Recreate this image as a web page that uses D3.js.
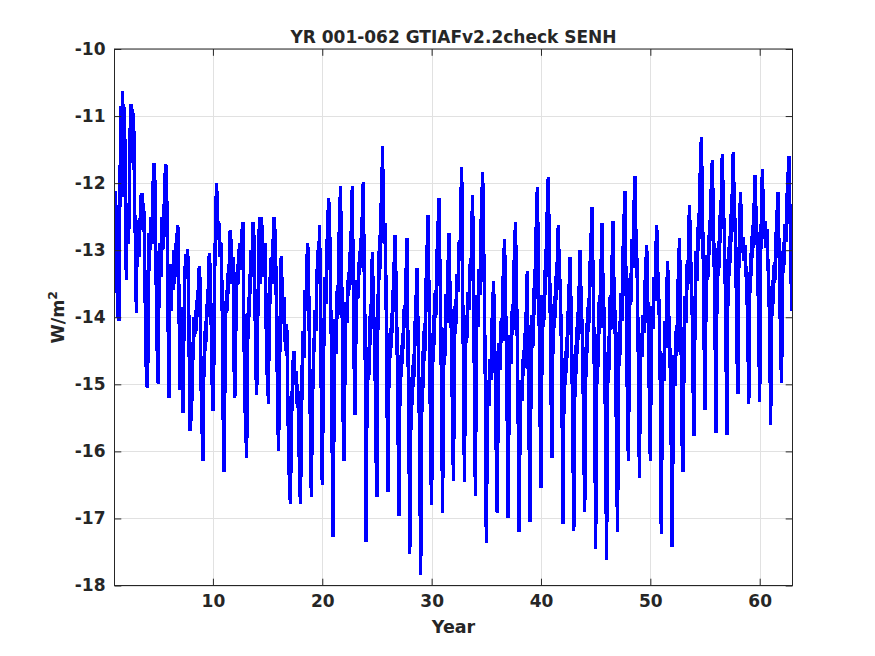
<!DOCTYPE html>
<html><head><meta charset="utf-8">
<script src="https://cdn.jsdelivr.net/npm/d3@7"></script>
<style>
body{margin:0;background:#fff}
svg text{font-family:"DejaVu Sans",sans-serif;font-weight:bold;fill:#262626}
</style>
</head><body>
<svg id="chart" width="875" height="656"></svg>
<script>
const titleText = "YR 001-062 GTIAFv2.2check SENH";
const xLabelText = "Year";
const yLabelMain = "W/m";
const yLabelSup = "2";
const firstYear = 1;
const monthsPerYear = 12;
const xDomain = [1, 63];
const yDomain = [-18, -10];
const xTicks = [10, 20, 30, 40, 50, 60];
const yTicks = [-18, -17, -16, -15, -14, -13, -12, -11, -10];

// monthly values (W/m^2), one row per model year
const senh = [
[-13.22,-12.12,-12.60,-13.67,-14.00,-14.05,-12.05,-10.85,-11.30,-10.63,-12.20,-10.87],
[-12.40,-13.45,-12.30,-12.90,-12.60,-11.30,-10.82,-10.90,-11.70,-10.95,-12.30,-12.90],
[-13.94,-12.55,-12.80,-13.10,-12.60,-12.20,-12.15,-12.60,-12.30,-13.00,-14.12,-14.90],
[-15.05,-14.40,-12.75,-13.00,-12.50,-12.90,-12.20,-11.70,-11.75,-12.60,-13.80,-14.60],
[-15.00,-13.20,-12.90,-13.40,-12.50,-13.00,-12.60,-12.10,-11.72,-11.75,-13.00,-14.30],
[-15.20,-13.20,-13.90,-13.40,-13.60,-13.00,-13.50,-12.90,-13.30,-12.63,-12.70,-14.10],
[-15.08,-13.85,-14.50,-15.43,-14.40,-13.50,-13.06,-13.40,-12.98,-13.20,-14.60,-15.70],
[-15.50,-15.20,-14.60,-14.00,-14.30,-13.90,-14.20,-13.60,-14.00,-13.24,-13.50,-15.00],
[-15.60,-16.15,-14.90,-14.20,-14.50,-13.80,-14.00,-13.50,-13.05,-13.30,-14.00,-14.90],
[-15.40,-14.70,-13.30,-12.50,-12.00,-12.40,-12.85,-12.60,-13.10,-12.90,-13.60,-15.20],
[-16.30,-15.20,-14.00,-13.60,-13.90,-13.20,-13.50,-12.70,-12.90,-13.30,-13.10,-14.60],
[-15.20,-14.30,-13.60,-13.20,-13.50,-12.90,-13.30,-13.00,-12.70,-12.58,-14.10,-15.30],
[-15.60,-16.10,-14.60,-13.70,-14.00,-13.30,-13.00,-13.40,-12.58,-12.80,-13.60,-14.70],
[-15.16,-14.20,-13.40,-12.50,-13.50,-12.50,-12.70,-13.00,-13.40,-12.90,-13.60,-14.80],
[-14.90,-15.30,-13.40,-13.80,-13.10,-13.50,-12.90,-12.50,-12.70,-13.20,-14.20,-15.30],
[-16.00,-15.00,-13.80,-13.08,-13.60,-14.10,-13.70,-14.30,-14.50,-14.10,-15.00,-16.00],
[-16.50,-16.78,-15.80,-15.10,-14.65,-14.50,-15.00,-14.80,-15.30,-15.00,-15.60,-16.30],
[-16.78,-15.90,-14.70,-14.20,-14.60,-13.60,-13.90,-13.20,-12.89,-13.40,-14.60,-15.70],
[-16.68,-15.50,-14.80,-14.40,-13.90,-14.20,-13.50,-13.00,-13.30,-12.63,-13.80,-15.30],
[-16.50,-15.20,-14.10,-13.40,-13.80,-13.00,-12.60,-12.23,-12.50,-13.60,-14.40,-16.20],
[-17.27,-15.18,-14.03,-14.55,-13.61,-14.03,-12.98,-12.56,-12.04,-13.09,-14.13,-15.60],
[-16.15,-14.59,-13.77,-14.09,-13.44,-13.68,-13.03,-13.27,-12.53,-12.04,-13.60,-14.75],
[-15.45,-14.14,-13.44,-13.72,-13.17,-13.37,-12.82,-13.03,-12.41,-11.99,-13.30,-14.27],
[-17.35,-15.41,-14.50,-14.93,-13.98,-14.41,-13.55,-13.03,-13.81,-14.15,-14.84,-16.05],
[-16.68,-14.06,-13.02,-13.44,-12.29,-12.81,-11.45,-12.23,-12.91,-12.60,-13.65,-15.11],
[-16.60,-15.07,-14.23,-14.61,-13.93,-14.23,-13.47,-13.16,-12.78,-13.54,-14.31,-15.38],
[-16.97,-15.39,-14.56,-14.89,-14.23,-14.48,-13.82,-14.06,-13.32,-12.82,-14.40,-15.56],
[-17.53,-15.83,-14.89,-15.31,-14.55,-14.89,-14.04,-13.70,-13.27,-14.12,-14.97,-16.17],
[-17.85,-15.70,-14.51,-15.05,-14.08,-14.51,-13.44,-13.01,-12.47,-13.55,-14.62,-16.13],
[-16.80,-14.97,-13.96,-14.42,-13.59,-13.96,-13.04,-12.68,-12.22,-13.14,-14.05,-15.33],
[-16.92,-15.04,-14.16,-14.58,-13.66,-14.08,-13.24,-12.74,-13.49,-13.83,-14.50,-15.67],
[-16.44,-14.66,-13.73,-14.10,-13.35,-13.63,-12.88,-13.16,-12.32,-11.76,-13.54,-14.85],
[-16.45,-14.83,-13.97,-14.31,-13.63,-13.89,-13.20,-13.46,-12.69,-12.18,-13.80,-15.00],
[-16.67,-14.73,-13.67,-14.15,-13.28,-13.67,-12.70,-12.31,-11.83,-12.80,-13.77,-15.12],
[-17.36,-15.80,-14.94,-15.33,-14.63,-14.94,-14.16,-13.85,-13.46,-14.24,-15.02,-16.11],
[-16.92,-15.28,-14.38,-14.79,-14.06,-14.38,-13.57,-13.24,-12.83,-13.65,-14.47,-15.61],
[-17.00,-15.23,-14.26,-14.70,-13.91,-14.26,-13.38,-13.02,-12.58,-13.46,-14.35,-15.59],
[-17.20,-15.72,-14.94,-15.25,-14.63,-14.87,-14.24,-14.48,-13.78,-13.31,-14.79,-15.88],
[-17.05,-15.05,-13.96,-14.46,-13.56,-13.96,-12.96,-12.56,-12.06,-13.06,-14.06,-15.45],
[-16.55,-14.69,-13.67,-14.14,-13.30,-13.67,-12.75,-12.37,-11.91,-12.84,-13.77,-15.07],
[-16.10,-14.54,-13.81,-14.16,-13.39,-13.74,-13.05,-12.63,-13.25,-13.53,-14.09,-15.06],
[-17.08,-15.49,-14.61,-15.01,-14.29,-14.61,-13.82,-13.50,-13.10,-13.90,-14.69,-15.81],
[-17.18,-15.30,-14.42,-14.84,-13.92,-14.34,-13.50,-13.00,-13.75,-14.09,-14.76,-15.93],
[-16.90,-15.08,-14.08,-14.53,-13.71,-14.08,-13.17,-12.80,-12.35,-13.26,-14.17,-15.44],
[-17.46,-15.27,-14.25,-14.74,-13.67,-14.16,-13.18,-12.60,-13.47,-13.86,-14.64,-16.00],
[-17.62,-15.34,-14.28,-14.79,-13.67,-14.18,-13.17,-12.56,-13.47,-13.88,-14.69,-16.10],
[-17.20,-15.17,-14.05,-14.56,-13.64,-14.05,-13.03,-12.63,-12.12,-13.14,-14.15,-15.57],
[-16.15,-14.24,-13.34,-13.77,-12.83,-13.26,-12.41,-11.90,-12.66,-13.00,-13.68,-14.87],
[-16.39,-15.00,-14.24,-14.59,-13.96,-14.24,-13.54,-13.27,-12.92,-13.61,-14.31,-15.28],
[-16.15,-14.57,-13.83,-14.18,-13.40,-13.76,-13.05,-12.63,-13.26,-13.55,-14.11,-15.09],
[-17.23,-15.40,-14.54,-14.95,-14.06,-14.46,-13.65,-13.16,-13.89,-14.22,-14.87,-16.01],
[-17.43,-15.59,-14.57,-15.03,-14.20,-14.57,-13.65,-13.28,-12.82,-13.74,-14.66,-15.95],
[-16.31,-14.51,-13.68,-14.08,-13.20,-13.60,-12.80,-12.32,-13.04,-13.36,-14.00,-15.11],
[-15.77,-13.99,-13.01,-13.46,-12.65,-13.01,-12.12,-11.76,-11.32,-12.21,-13.10,-14.35],
[-15.38,-13.89,-13.07,-13.45,-12.78,-13.07,-12.33,-12.03,-11.66,-12.40,-13.15,-14.19],
[-15.72,-13.85,-12.97,-13.39,-12.48,-12.89,-12.06,-11.56,-12.31,-12.64,-13.31,-14.47],
[-15.75,-13.85,-12.96,-13.39,-12.46,-12.88,-12.04,-11.53,-12.29,-12.63,-13.30,-14.48],
[-15.14,-13.34,-12.59,-12.14,-12.74,-13.04,-12.80,-13.16,-12.92,-13.34,-13.64,-14.24],
[-15.30,-13.76,-13.04,-13.38,-12.63,-12.97,-12.29,-11.88,-12.50,-12.77,-13.32,-14.27],
[-15.27,-13.18,-12.31,-11.79,-12.49,-12.83,-12.56,-12.97,-12.69,-13.18,-13.53,-14.23],
[-15.60,-14.22,-13.45,-13.80,-13.18,-13.45,-12.76,-12.49,-12.14,-12.83,-13.52,-14.49],
[-14.98,-13.62,-12.88,-13.22,-12.61,-12.88,-12.20,-11.93,-11.59,-12.27,-12.95,-13.90]
];

const points = [];
senh.forEach((row, yi) => row.forEach((v, m) => points.push({t: firstYear + yi + m / monthsPerYear, v})));

const L = 114.5, R = 792.5, T = 49, B = 585.5;
const axisColor = "#262626", gridColor = "#e1e1e1", lineColor = "#0000ff";
const fs = 17;

const svg = d3.select("#chart");
const x = d3.scaleLinear().domain(xDomain).range([L, R]);
const y = d3.scaleLinear().domain(yDomain).range([B, T]);

// grid
const g = svg.append("g");
g.selectAll(".gx").data(xTicks).join("line")
  .attr("x1", d => Math.round(x(d)) + 0.5).attr("x2", d => Math.round(x(d)) + 0.5)
  .attr("y1", T).attr("y2", B).attr("stroke", gridColor).attr("stroke-width", 1);
g.selectAll(".gy").data(yTicks).join("line")
  .attr("y1", d => Math.round(y(d)) + 0.5).attr("y2", d => Math.round(y(d)) + 0.5)
  .attr("x1", L).attr("x2", R).attr("stroke", gridColor).attr("stroke-width", 1);

// data
svg.append("clipPath").attr("id", "clip").append("rect")
  .attr("x", L).attr("y", T).attr("width", R - L).attr("height", B - T);
svg.append("path").datum(points)
  .attr("clip-path", "url(#clip)")
  .attr("fill", "none").attr("stroke", lineColor).attr("stroke-width", 3.4)
  .attr("shape-rendering", "crispEdges")
  .attr("stroke-linejoin", "miter").attr("stroke-miterlimit", 2)
  .attr("d", d3.line().x(d => x(d.t)).y(d => y(d.v)));

// axes
const tk = 6.8;
const fmt = d => String(d);
function styleAxis(sel, showText) {
  sel.select(".domain").remove();
  sel.selectAll(".tick line").attr("stroke", axisColor).attr("stroke-width", 1);
  sel.selectAll(".tick text").attr("font-size", fs).attr("fill", axisColor)
    .attr("font-family", "DejaVu Sans").attr("font-weight", "bold");
  if (!showText) sel.selectAll(".tick text").remove();
}
svg.append("g").attr("transform", `translate(0,${B})`)
  .call(d3.axisBottom(x).tickValues(xTicks).tickFormat(fmt).tickSize(-tk).tickPadding(9))
  .call(s => styleAxis(s, true));
svg.append("g").attr("transform", `translate(0,${T})`)
  .call(d3.axisTop(x).tickValues(xTicks).tickSize(-tk))
  .call(s => styleAxis(s, false));
svg.append("g").attr("transform", `translate(${L},0)`)
  .call(d3.axisLeft(y).tickValues(yTicks).tickFormat(fmt).tickSize(-tk).tickPadding(9))
  .call(s => styleAxis(s, true));
svg.append("g").attr("transform", `translate(${R},0)`)
  .call(d3.axisRight(y).tickValues(yTicks).tickSize(-tk))
  .call(s => styleAxis(s, false));

svg.append("rect").attr("x", L).attr("y", T).attr("width", R - L).attr("height", B - T)
  .attr("fill", "none").attr("stroke", axisColor).attr("stroke-width", 1);

// labels
svg.append("text").attr("x", (L + R) / 2).attr("y", 43).attr("text-anchor", "middle")
  .attr("font-size", 17).text(titleText);
svg.append("text").attr("x", (L + R) / 2).attr("y", 633).attr("text-anchor", "middle")
  .attr("font-size", 17.5).text(xLabelText);
const yl = svg.append("text").attr("transform", `translate(64,${(T + B) / 2}) rotate(-90)`)
  .attr("text-anchor", "middle").attr("font-size", 17.5);
yl.append("tspan").text(yLabelMain);
yl.append("tspan").attr("font-size", 12.5).attr("dy", -7).text(yLabelSup);
</script>
</body></html>
